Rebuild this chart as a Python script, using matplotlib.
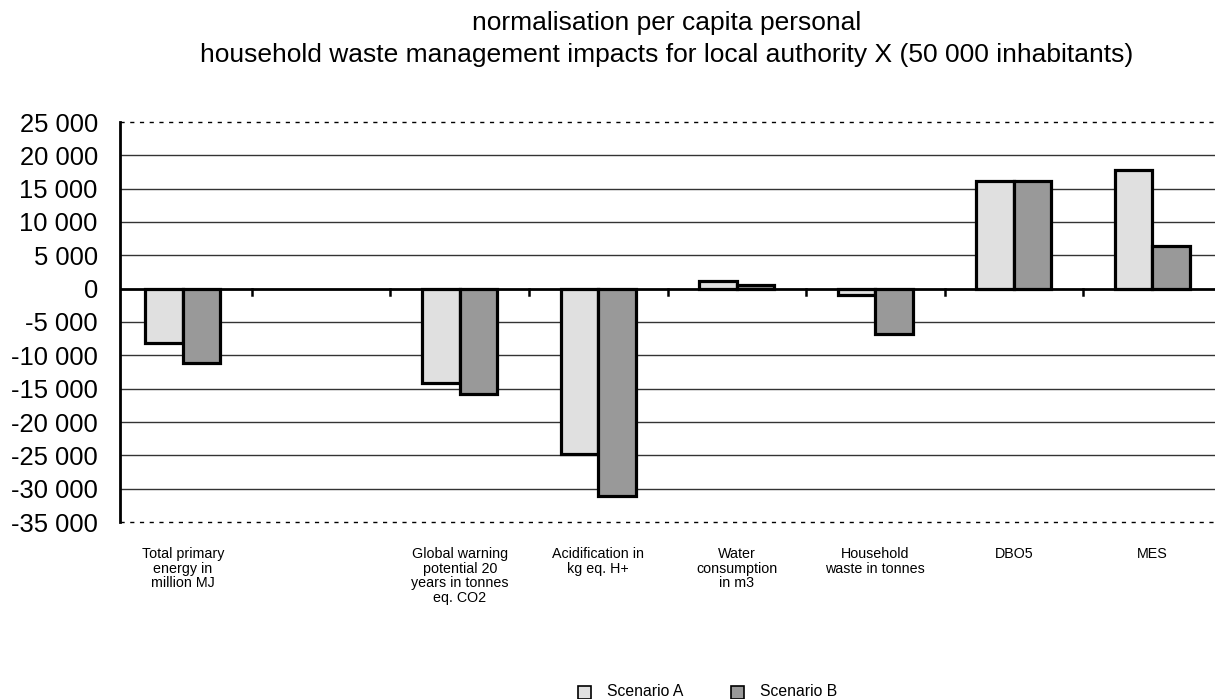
import matplotlib
matplotlib.use("Agg")
import matplotlib.pyplot as plt
from matplotlib.patches import Rectangle
import numpy as np

plt.rcParams['font.family'] = ['Liberation Sans', 'DejaVu Sans']

categories = ["Total primary\nenergy in\nmillion MJ", "",
              "Global warning\npotential 20\nyears in tonnes\neq. CO2",
              "Acidification in\nkg eq. H+", "Water\nconsumption\nin m3",
              "Household\nwaste in tonnes", "DBO5", "MES"]
scenario_a = [-8100, np.nan, -14100, -24850, 1200, -900, 16150, 17800]
scenario_b = [-11100, np.nan, -15750, -31100, 600, -6800, 16150, 6450]
yticks = list(range(-35000, 25001, 5000))
series_names = ["Scenario A", "Scenario B"]
colors = ["#e0e0e0", "#999999"]

W, H = 1215, 699
fig = plt.figure(figsize=(W / 100, H / 100), dpi=100)
ax = fig.add_axes([120 / W, 1 - 522 / H, (1215 - 120) / W, (522 - 122) / H])

x = np.arange(len(categories))
bw = 0.27
for vals, off, c in ((scenario_a, -bw / 2, colors[0]), (scenario_b, bw / 2, colors[1])):
    ax.bar(x + off, vals, width=bw, color=c, edgecolor="black", linewidth=2.3, zorder=3)

ax.set_xlim(-0.453, 7.453)
ax.set_ylim(-35000, 25000)

# grid lines
for v in yticks:
    if v in (-35000, 25000):
        ax.axhline(v, color="black", lw=1.0, ls=(0, (3, 4)), zorder=1, clip_on=False)
    elif v == 0:
        continue
    else:
        ax.axhline(v, color="#333333", lw=1.0, zorder=1)
ax.axhline(0, color="black", lw=2.0, zorder=4)

for s in ax.spines.values():
    s.set_visible(False)
ax.plot([-0.453, -0.453], [-35000, 25000], color="black", lw=2.0, clip_on=False, zorder=5)

# tick marks at category boundaries on the zero line
for b in np.arange(0.5, 7.0, 1.0):
    ax.plot([b, b], [0, -1000], color="black", lw=1.8, zorder=4, clip_on=False)

ax.set_yticks(yticks)
ax.set_yticklabels([f"{v:,}".replace(",", " ") for v in yticks], fontsize=18.4)
ax.tick_params(axis="y", length=0, pad=16)
ax.set_xticks([])

for xi, lab in zip(x, categories):
    ax.text(xi, -0.063, lab, transform=ax.get_xaxis_transform(), ha="center", va="top",
            fontsize=10.3, linespacing=1.05)

fig.text(667 / W, 1 - 30 / H, "normalisation per capita personal", ha="center",
         va="baseline", fontsize=19)
fig.text(667 / W, 1 - 62 / H,
         "household waste management impacts for local authority X (50 000 inhabitants)",
         ha="center", va="baseline", fontsize=19)

# legend drawn manually
leg_boxes = [578, 731]
for bx, c, name in zip(leg_boxes, colors, series_names):
    fig.patches.append(Rectangle((bx / W, 1 - 698.5 / H), 13 / W, 13 / H, facecolor=c,
                                 edgecolor="black", linewidth=1.2,
                                 transform=fig.transFigure, figure=fig))
    fig.text((bx + 29) / W, 1 - 692 / H, name, ha="left", va="center", fontsize=11.3)

fig.savefig("out.png", dpi=100)
